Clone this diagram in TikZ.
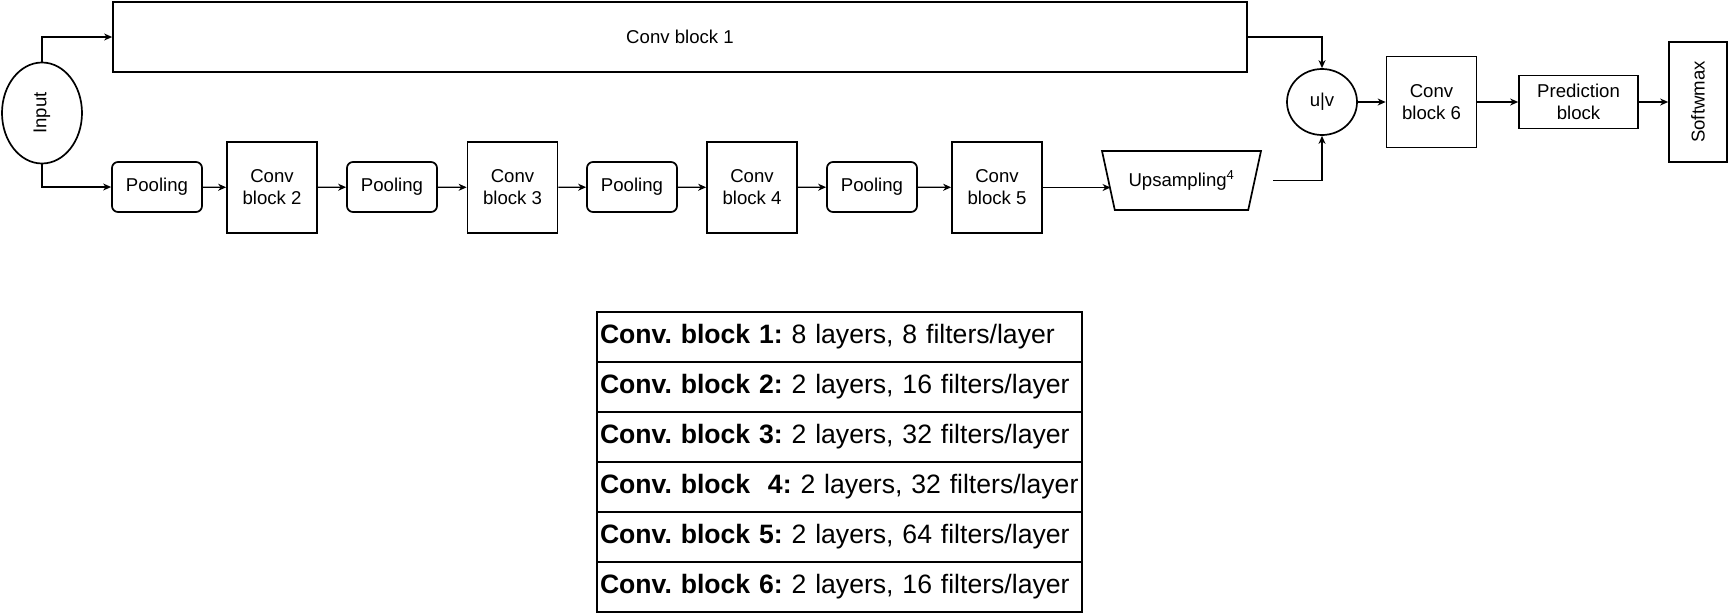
\documentclass[tikz,border=0pt]{standalone}
\usepackage{fontspec}
\setmainfont{Liberation Sans}
\usetikzlibrary{shapes.geometric}
\usetikzlibrary{arrows.meta}
\frenchspacing

\begin{document}
\begin{tikzpicture}[x=1pt, y=-1pt,
    every node/.style={font=\fontsize{18.6}{22}\selectfont, inner sep=0pt, line width=1.7pt},
    block/.style={draw, rectangle, minimum width=90pt, minimum height=91pt, align=center},
    pool/.style={draw, rectangle, rounded corners=6pt, minimum width=90pt, minimum height=50pt},
    arr/.style={-{Stealth[length=8pt, width=7pt, inset=2.5pt]}, line width=1.2pt},
    tabrow/.style={draw, rectangle, minimum height=50pt, text width=479pt, inner xsep=3pt, align=left, font=\fontsize{26.6}{31}\selectfont}]

    \useasboundingbox (0,0) rectangle (1730,614);

    % Input and the long upper branch
    \node[draw, ellipse, minimum width=80pt, minimum height=101pt] (input) at (42,113) {\rotatebox{90}{Input}};
    \node[draw, rectangle, minimum width=1134pt, minimum height=70pt] (conv1) at (680,37) {Conv block 1};

    % Lower branch: pooling and conv blocks
    \node[pool] (pool1) at (157,187) {Pooling};
    \node[block] (conv2) at (272,187.5) {Conv\\block 2};
    \node[pool] (pool2) at (392,187) {Pooling};
    \node[block] (conv3) at (512.5,187.5) {Conv\\block 3};
    \node[pool] (pool3) at (632,187) {Pooling};
    \node[block] (conv4) at (752,187.5) {Conv\\block 4};
    \node[pool] (pool4) at (872,187) {Pooling};
    \node[block] (conv5) at (997,187.5) {Conv\\block 5};

    % Upsampling (upside-down trapezium)
    \node[draw, trapezium, trapezium stretches=true, shape border rotate=180,
          trapezium left angle=62, trapezium right angle=62,
          minimum width=159pt, minimum height=59pt] (ups) at (1181.5,180.5) {Upsampling\textsuperscript{4}};

    % Merge and head
    \node[draw, ellipse, minimum width=70pt, minimum height=66pt] (uv) at (1322,102) {u|v};
    \node[block] (conv6) at (1431.5,102) {Conv\\block 6};
    \node[draw, rectangle, minimum width=119pt, minimum height=53pt, align=center] (pred) at (1578.5,102) {Prediction\\block};
    \node[draw, rectangle, minimum width=58pt, minimum height=120pt] (soft) at (1698,102) {\rotatebox{90}{Softwmax}};

    % Connectors
    \draw[arr] (input.north) |- (conv1.west);
    \draw[arr] (input.south) |- (pool1.west);
    \draw[arr] (pool1) -- (conv2);
    \draw[arr] (conv2) -- (pool2);
    \draw[arr] (pool2) -- (conv3);
    \draw[arr] (conv3) -- (pool3);
    \draw[arr] (pool3) -- (conv4);
    \draw[arr] (conv4) -- (pool4);
    \draw[arr] (pool4) -- (conv5);
    \draw[arr] (conv5.east) -- ([xshift=3pt]conv5.east -| ups.west);
    \draw[arr] ([xshift=18pt]ups.east) -| (uv.south);
    \draw[arr] (conv1.east) -| (uv.north);
    \draw[arr] (uv) -- (conv6);
    \draw[arr] (conv6) -- (pred);
    \draw[arr] (pred) -- (soft);

    % Table of conv blocks
    \node[tabrow] (row1) at (839.5,337) {\textbf{Conv. block 1:} 8 layers, 8 filters/layer};
    \node[tabrow] (row2) at (839.5,387) {\textbf{Conv. block 2:} 2 layers, 16 filters/layer};
    \node[tabrow] (row3) at (839.5,437) {\textbf{Conv. block 3:} 2 layers, 32 filters/layer};
    \node[tabrow] (row4) at (839.5,487) {\textbf{Conv. block\ \ 4:} 2 layers, 32 filters/layer};
    \node[tabrow] (row5) at (839.5,537) {\textbf{Conv. block 5:} 2 layers, 64 filters/layer};
    \node[tabrow] (row6) at (839.5,587) {\textbf{Conv. block 6:} 2 layers, 16 filters/layer};

\end{tikzpicture}
\end{document}
